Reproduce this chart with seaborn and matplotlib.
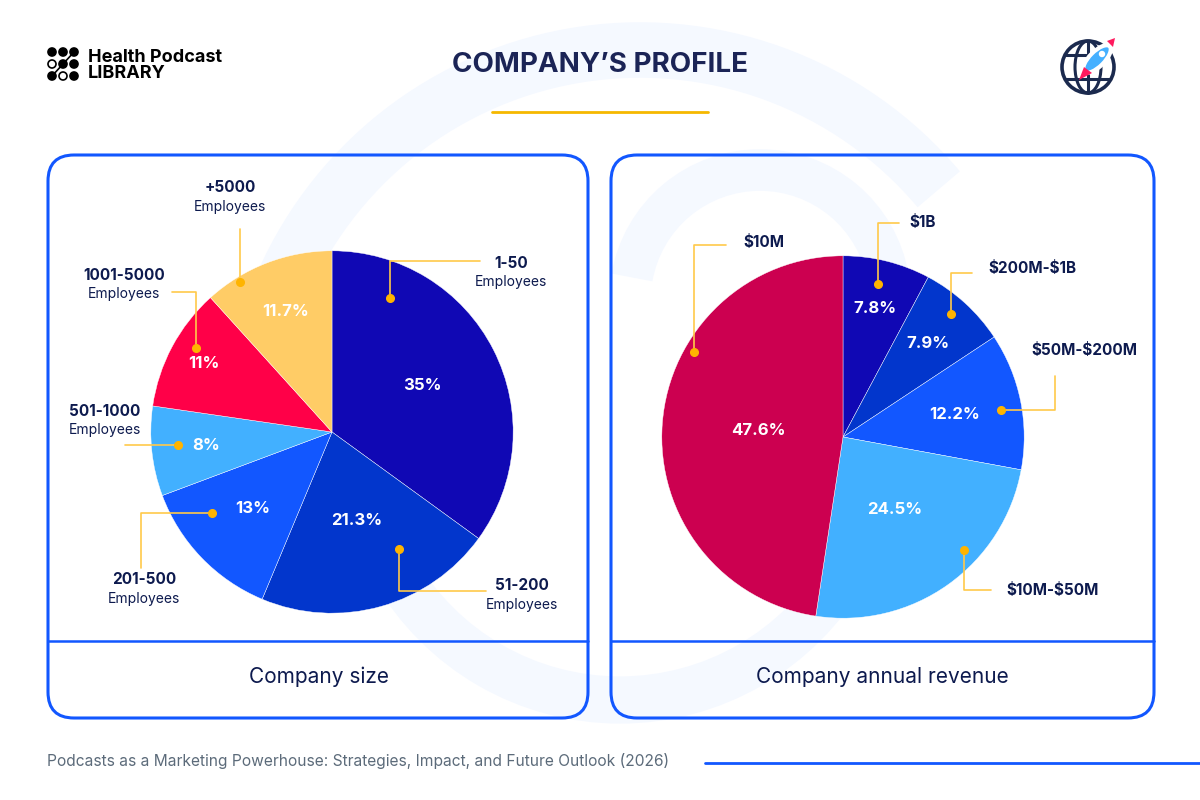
import numpy as np
import matplotlib
matplotlib.use("Agg")
import matplotlib.pyplot as plt
import seaborn as sns
from matplotlib.patches import FancyBboxPatch, Circle, Ellipse, Polygon, Arc

# --- data ---
size_labels = ["1-50", "51-200", "201-500", "501-1000", "1001-5000", "+5000"]
size_values = [35, 21.3, 13, 8, 11, 11.7]
rev_labels = ["$1B", "$200M-$1B", "$50M-$200M", "$10M-$50M", "$10M"]
rev_values = [7.8, 7.9, 12.2, 24.5, 47.6]

size_colors = ["#1008B4", "#0236CC", "#1257FF", "#42B0FF", "#FF0048", "#FFCC66"]
rev_colors = ["#1008B4", "#0236CC", "#1257FF", "#42B0FF", "#CC0050"]

NAVY = "#0D1A4E"
GOLD = "#FFB400"
LINE = "#FFC94A"
BLUE = "#1257FF"

sns.set_theme(style="white")
plt.rcParams["font.family"] = ["Inter", "DejaVu Sans"]
plt.rcParams["text.parse_math"] = False

fig = plt.figure(figsize=(12, 8), dpi=100)
fig.patch.set_facecolor("white")

# background layer in pixel coordinates
bg = fig.add_axes([0, 0, 1, 1], zorder=0)
bg.set_xlim(0, 1200)
bg.set_ylim(800, 0)
bg.axis("off")

# faint watermark swirl
for (cx, cy, w, h, t1, t2, lw) in [(640, 440, 780, 780, 200, 320, 40),
                                   (620, 440, 520, 520, 30, 150, 34),
                                   (760, 300, 260, 260, 190, 350, 30)]:
    bg.add_patch(Arc((cx, cy), w, h, theta1=t1, theta2=t2, color="#F5F9FF", lw=lw, zorder=0))

# panels
for x0, x1 in [(48, 588), (611, 1154)]:
    bg.add_patch(FancyBboxPatch((x0, 155), x1 - x0, 563, boxstyle="round,pad=0,rounding_size=26",
                                fc="none", ec=BLUE, lw=2.2, zorder=2))
    bg.plot([x0, x1], [641, 641], color=BLUE, lw=1.8, zorder=2)

bg.text(319, 677, "Company size", ha="center", va="center", fontsize=15, color=NAVY)
bg.text(882, 677, "Company annual revenue", ha="center", va="center", fontsize=15, color=NAVY)

# header
bg.text(600, 65, "COMPANY\u2019S PROFILE", ha="center", va="center", fontsize=20,
        fontweight="bold", color="#1B2456")
bg.plot([492, 708], [112, 112], color="#F5B800", lw=2)

# left logo
dots = [(52, 52, 1), (63, 52, 1), (74, 52, 1), (52, 64, 0), (63, 64, 1), (74, 64, 1),
        (52, 76, 1), (63, 76, 0), (74, 76, 1)]
bg.plot([52, 63, 74], [76, 64, 52], color="black", lw=1.2)
for x, y, f in dots:
    bg.add_patch(Circle((x, y), 4, fc="black" if f else "white", ec="black", lw=1.2, zorder=3))
bg.text(88, 57, "Health Podcast", ha="left", va="center", fontsize=13, fontweight="bold", color="black")
bg.text(88, 73, "LIBRARY", ha="left", va="center", fontsize=13, fontweight="bold", color="black")

# right logo (globe + rocket)
gx, gy = 1088, 67
bg.add_patch(Circle((gx, gy), 26, fc="none", ec="#1B2A4E", lw=2.6, zorder=3))
bg.add_patch(Ellipse((gx, gy), 26, 52, fc="none", ec="#1B2A4E", lw=2.2, zorder=3))
bg.plot([gx, gx], [gy - 26, gy + 26], color="#1B2A4E", lw=2.2, zorder=3)
bg.plot([gx - 22, gx + 22], [gy - 12, gy - 12], color="#1B2A4E", lw=2.2, zorder=3)
bg.plot([gx - 22, gx + 22], [gy + 12, gy + 12], color="#1B2A4E", lw=2.2, zorder=3)
bg.add_patch(Ellipse((gx + 9, gy - 8), 15, 36, angle=45, fc="#45B0FF", ec="white", lw=3, zorder=4))
bg.add_patch(Circle((gx + 14, gy - 13), 3.2, fc="white", ec="none", zorder=5))
bg.add_patch(Polygon([(gx - 9, gy + 13), (gx - 4, gy), (gx + 4, gy + 6)], fc="#FF1A5E", ec="none", zorder=4))
bg.add_patch(Polygon([(gx + 19, gy - 26), (gx + 27, gy - 29), (gx + 25, gy - 20)], fc="#FF1A5E", ec="none", zorder=4))

# footer
bg.text(47, 761, "Podcasts as a Marketing Powerhouse: Strategies, Impact, and Future Outlook (2026)",
        ha="left", va="center", fontsize=11.2, color="#5C6B7A")
bg.plot([705, 1200], [763, 763], color=BLUE, lw=2)


def pie_axes(cx, cy, r):
    return fig.add_axes([(cx - r) / 1200, (800 - cy - r) / 800, 2 * r / 1200, 2 * r / 800], zorder=3)


def draw_pie(ax, values, colors, pct_r):
    wedges, _ = ax.pie(values, colors=colors, startangle=90, counterclock=False, radius=1,
                       wedgeprops=dict(edgecolor="white", linewidth=0.3))
    for w, v, pr in zip(wedges, values, pct_r):
        mid = np.deg2rad((w.theta1 + w.theta2) / 2)
        txt = f"{v:g}%"
        ax.text(pr * np.cos(mid), pr * np.sin(mid), txt, ha="center", va="center",
                fontsize=12, fontweight="bold", color="white")
    ax.set_xlim(-1.01, 1.01)
    ax.set_ylim(-1.01, 1.01)
    ax.axis("off")


ax1 = pie_axes(332, 432, 183)
draw_pie(ax1, size_values, size_colors, [0.56, 0.51, 0.61, 0.70, 0.80, 0.71])
ax2 = pie_axes(843, 437, 183)
draw_pie(ax2, rev_values, rev_colors, [0.73, 0.70, 0.63, 0.49, 0.47])

# overlay for leader lines and labels
top = fig.add_axes([0, 0, 1, 1], zorder=6)
top.set_xlim(0, 1200)
top.set_ylim(800, 0)
top.axis("off")
top.patch.set_alpha(0)

size_leaders = [
    ([(390, 298), (390, 261), (480, 261)], (511, 263)),
    ([(399, 549), (399, 591), (486, 591)], (522, 586)),
    ([(212, 513), (141, 513), (141, 568)], (144, 580)),
    ([(178, 445), (125, 445)], (105, 411)),
    ([(196, 348), (196, 292), (172, 292)], (124, 275)),
    ([(240, 282), (240, 229)], (230, 188)),
]
rev_leaders = [
    ([(878, 284), (878, 223), (899, 223)], (923, 223)),
    ([(951, 314), (951, 273), (972, 273)], (1032, 269)),
    ([(1001, 410), (1055, 410), (1055, 376)], (1084, 350)),
    ([(964, 550), (964, 590), (991, 590)], (1053, 590)),
    ([(694, 352), (694, 245), (726, 245)], (764, 243)),
]

for lab, (path, (tx, ty)) in zip(size_labels, size_leaders):
    xs, ys = zip(*path)
    top.plot(xs, ys, color=LINE, lw=1.2)
    top.plot(xs[0], ys[0], "o", color=GOLD, ms=5.5)
    top.text(tx, ty, lab, ha="center", va="center", fontsize=11, fontweight="bold", color=NAVY)
    top.text(tx, ty + 19, "Employees", ha="center", va="center", fontsize=10, color=NAVY)

for lab, (path, (tx, ty)) in zip(rev_labels, rev_leaders):
    xs, ys = zip(*path)
    top.plot(xs, ys, color=LINE, lw=1.2)
    top.plot(xs[0], ys[0], "o", color=GOLD, ms=5.5)
    top.text(tx, ty, lab, ha="center", va="center", fontsize=11, fontweight="bold", color=NAVY)

fig.savefig("out.png", dpi=100, facecolor="white")
